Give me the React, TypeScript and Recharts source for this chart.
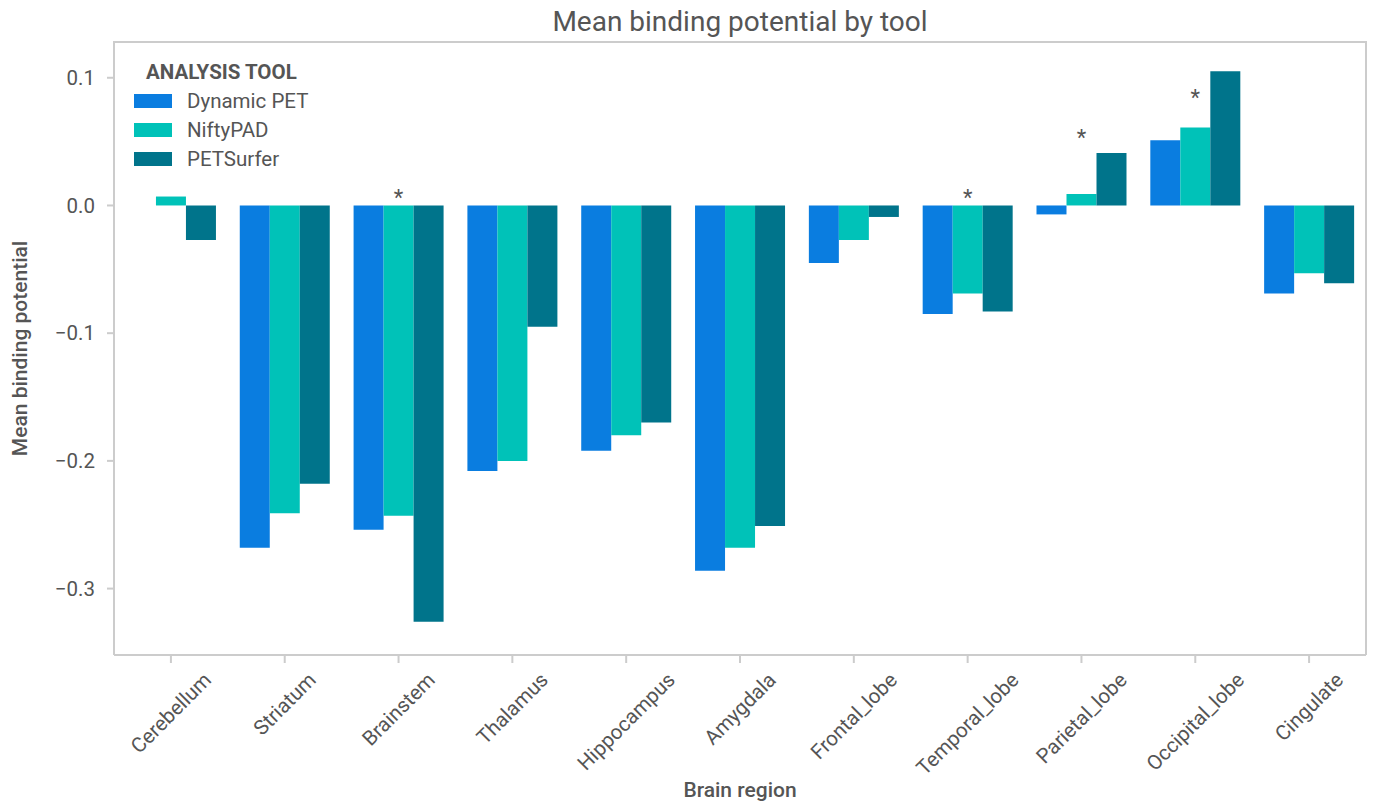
import React from 'react';
import { BarChart, Bar, XAxis, YAxis, ReferenceDot, Label } from 'recharts';

const REGIONS = [
  'Cerebellum', 'Striatum', 'Brainstem', 'Thalamus', 'Hippocampus', 'Amygdala',
  'Frontal_lobe', 'Temporal_lobe', 'Parietal_lobe', 'Occipital_lobe', 'Cingulate',
];
const DYNAMIC_PET = [0.0, -0.268, -0.254, -0.208, -0.192, -0.286, -0.045, -0.085, -0.007, 0.051, -0.069];
const NIFTYPAD = [0.007, -0.241, -0.243, -0.200, -0.180, -0.268, -0.027, -0.069, 0.009, 0.061, -0.053];
const PETSURFER = [-0.027, -0.218, -0.326, -0.095, -0.170, -0.251, -0.009, -0.083, 0.041, 0.105, -0.061];

// regions flagged as significant, with the height of the star above the bars
const SIG_REGIONS = ['Brainstem', 'Temporal_lobe', 'Parietal_lobe', 'Occipital_lobe'];
const SIG_Y = [0.0094, 0.0096, 0.057, 0.088];

const Y_TICKS = [-0.3, -0.2, -0.1, 0.0, 0.1];
const Y_DOMAIN = [-0.352, 0.128];

const SERIES = [
  { key: 'Dynamic PET', values: DYNAMIC_PET, color: '#0a7de0' },
  { key: 'NiftyPAD', values: NIFTYPAD, color: '#00c2b8' },
  { key: 'PETSurfer', values: PETSURFER, color: '#00748b' },
];

const data = REGIONS.map((region, i) => {
  const row: Record<string, string | number> = { region };
  SERIES.forEach((s) => { row[s.key] = s.values[i]; });
  return row;
});

const FONT = 'Roboto, "Noto Sans", sans-serif';
const TEXT = '#555555';
const FRAME = '#cccccc';

let ctx: CanvasRenderingContext2D | null = null;
function textWidth(s: string, font: string) {
  if (!ctx) ctx = document.createElement('canvas').getContext('2d');
  if (!ctx) return s.length * 10;
  ctx.font = font;
  return ctx.measureText(s).width;
}

// rotated label whose bounding box is centred under the tick
function RegionTick(props: any) {
  const { x, payload } = props;
  const fs = 20.5;
  const w = textWidth(payload.value, `${fs}px Roboto`);
  const box = (w + fs * 0.75) * Math.SQRT1_2;
  const cx = x;
  const cy = 671 + box / 2;
  return (
    <text
      x={cx}
      y={cy}
      textAnchor="middle"
      dominantBaseline="central"
      transform={`rotate(-45, ${cx}, ${cy})`}
      fill={TEXT}
      fontSize={fs}
      fontFamily={FONT}
    >
      {payload.value}
    </text>
  );
}

const fmt = (v: number) => (v < 0 ? '\u2212' + Math.abs(v).toFixed(1) : v.toFixed(1));

function Star({ viewBox }: any) {
  const cx = viewBox.x + (viewBox.width || 0) / 2;
  const cy = viewBox.y + (viewBox.height || 0) / 2;
  return (
    <text x={cx} y={cy + 12} textAnchor="middle" fontSize={22} fill={TEXT} fontFamily={FONT}>*</text>
  );
}

function ToolLegend() {
  return (
    <div style={{ position: 'absolute', left: 134, top: 57, fontFamily: FONT, color: TEXT }}>
      <div style={{ fontSize: 20.5, fontWeight: 700, marginLeft: 12, lineHeight: '30px', height: 29 }}>
        ANALYSIS TOOL
      </div>
      {SERIES.map((s) => (
        <div key={s.key} style={{ display: 'flex', alignItems: 'center', height: 29 }}>
          <span style={{ display: 'inline-block', width: 38, height: 14, background: s.color }} />
          <span style={{ fontSize: 20.5, marginLeft: 15 }}>{s.key}</span>
        </div>
      ))}
    </div>
  );
}

export default function App() {
  return (
    <div style={{ position: 'absolute', left: 0, top: 0, width: 1375, height: 804, background: '#fff' }}>
      <div
        style={{
          position: 'absolute', left: 114, width: 1252, top: 5, textAlign: 'center',
          fontFamily: FONT, fontSize: 28, color: TEXT, lineHeight: '34px',
        }}
      >
        Mean binding potential by tool
      </div>
      <BarChart
        width={1375}
        height={804}
        data={data}
        margin={{ top: 42, right: 9, left: 8, bottom: 0 }}
        barCategoryGap="10.5%"
        barGap={0}
      >
        <XAxis
          dataKey="region"
          height={149}
          interval={0}
          stroke={FRAME}
          strokeWidth={2}
          tickSize={8}
          tick={<RegionTick />}
        >
          <Label
            value="Brain region"
            position="insideBottom"
            offset={7}
            fill={TEXT}
            fontSize={21}
            fontWeight={500}
            fontFamily={FONT}
          />
        </XAxis>
        <YAxis
          width={106}
          domain={Y_DOMAIN}
          ticks={Y_TICKS}
          tickFormatter={fmt}
          stroke={FRAME}
          strokeWidth={2}
          tickSize={7}
          tickMargin={12}
          tick={{ fill: TEXT, fontSize: 20.5, fontFamily: FONT }}
          allowDataOverflow
        >
          <Label
            value="Mean binding potential"
            angle={-90}
            position="insideLeft"
            offset={12}
            fill={TEXT}
            fontSize={21}
            fontWeight={500}
            fontFamily={FONT}
            style={{ textAnchor: 'middle' }}
          />
        </YAxis>
        {SERIES.map((s) => (
          <Bar key={s.key} dataKey={s.key} fill={s.color} isAnimationActive={false} />
        ))}
        {SIG_REGIONS.map((r, i) => (
          <ReferenceDot key={r} x={r} y={SIG_Y[i]} r={0} fill="none" stroke="none" label={<Star />} />
        ))}
      </BarChart>
      {/* top and right edges of the plot frame */}
      <div
        style={{
          position: 'absolute', left: 113, top: 41, width: 1254, height: 614,
          borderTop: `2px solid ${FRAME}`, borderRight: `2px solid ${FRAME}`,
          boxSizing: 'border-box', pointerEvents: 'none',
        }}
      />
      <ToolLegend />
    </div>
  );
}
